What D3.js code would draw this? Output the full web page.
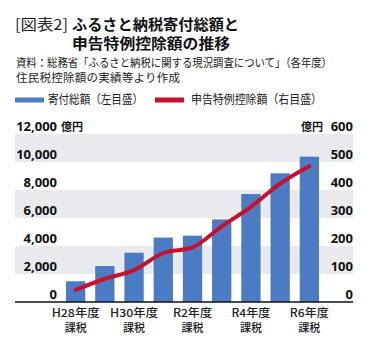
<!DOCTYPE html>
<html><head><meta charset="utf-8">
<script src="https://cdn.jsdelivr.net/npm/d3@7"></script>
<style>
html,body{margin:0;padding:0;background:#fff;}
svg{display:block;font-family:"Noto Sans CJK JP","Noto Sans",sans-serif;}
</style></head>
<body>
<script>
const categories = ["H28","H29","H30","R1","R2","R3","R4","R5","R6"];
const tickLabels = {"H28":["H28年度","課税"],"H30":["H30年度","課税"],"R2":["R2年度","課税"],"R4":["R4年度","課税"],"R6":["R6年度","課税"]};
const donations = [1480, 2570, 3520, 4600, 4740, 5900, 7710, 9190, 10380];
const deductions = [43, 83, 114, 175, 195, 270, 340, 423, 485];
const leftTicks = [0, 2000, 4000, 6000, 8000, 10000, 12000];
const rightTicks = [0, 100, 200, 300, 400, 500, 600];

const W = 366, H = 347;
const svg = d3.select("body").append("svg").attr("width", W).attr("height", H);

const x = d3.scaleBand().domain(categories).range([66, 319]).paddingInner(0.34).paddingOuter(0);
const yL = d3.scaleLinear().domain([0, 12000]).range([302, 134]);
const yR = d3.scaleLinear().domain([0, 600]).range([302, 134]);
const plotL = 15, plotR = 353;

// Title
svg.append("text").attr("x", 15).attr("y", 29.5).attr("font-size", 14.5).attr("fill", "#222")
  .attr("textLength", 53).attr("lengthAdjust", "spacingAndGlyphs").text("[図表2]");
svg.append("text").attr("x", 72).attr("y", 29.5).attr("font-size", 14.5).attr("font-weight", "bold").attr("fill", "#111")
  .attr("textLength", 167).attr("lengthAdjust", "spacingAndGlyphs").text("ふるさと納税寄付総額と");
svg.append("text").attr("x", 72).attr("y", 48.5).attr("font-size", 14.5).attr("font-weight", "bold").attr("fill", "#111")
  .attr("textLength", 158).attr("lengthAdjust", "spacingAndGlyphs").text("申告特例控除額の推移");
svg.append("text").attr("x", 16).attr("y", 66.5).attr("font-size", 11.5).attr("fill", "#222")
  .attr("textLength", 316).attr("lengthAdjust", "spacingAndGlyphs").text("資料：総務省「ふるさと納税に関する現況調査について」（各年度）");
svg.append("text").attr("x", 16).attr("y", 81.5).attr("font-size", 11.5).attr("fill", "#222")
  .attr("textLength", 164).text("住民税控除額の実績等より作成");

// Legend
svg.append("rect").attr("x", 15).attr("y", 97.5).attr("width", 29).attr("height", 5).attr("fill", "#4b7bc3");
svg.append("text").attr("x", 48).attr("y", 104).attr("font-size", 12).attr("fill", "#222")
  .attr("textLength", 95).attr("lengthAdjust", "spacingAndGlyphs").text("寄付総額（左目盛）");
svg.append("rect").attr("x", 155).attr("y", 97.5).attr("width", 29).attr("height", 5).attr("fill", "#c8102e");
svg.append("text").attr("x", 191).attr("y", 104).attr("font-size", 12).attr("fill", "#222")
  .attr("textLength", 131).attr("lengthAdjust", "spacingAndGlyphs").text("申告特例控除額（右目盛）");

// Bands
const bandStarts = leftTicks.filter((t, i) => i % 2 === 1);
svg.append("g").selectAll("rect").data(bandStarts).join("rect")
  .attr("x", plotL).attr("width", plotR - plotL)
  .attr("y", d => yL(d + 2000)).attr("height", d => yL(d) - yL(d + 2000))
  .attr("fill", "#e8eaee");

// Bars
svg.append("g").selectAll("rect").data(donations).join("rect")
  .attr("x", (d, i) => x(categories[i])).attr("width", x.bandwidth())
  .attr("y", d => yL(d)).attr("height", d => yL(0) - yL(d))
  .attr("fill", "#4b7bc3");

// Baseline
svg.append("line").attr("x1", plotL).attr("x2", plotR).attr("y1", 302).attr("y2", 302)
  .attr("stroke", "#111").attr("stroke-width", 1.3);

// Line
const line = d3.line().x((d, i) => x(categories[i]) + x.bandwidth() / 2).y(d => yR(d)).curve(d3.curveMonotoneX);
svg.append("path").datum(deductions).attr("d", line).attr("fill", "none")
  .attr("stroke", "#c8102e").attr("stroke-width", 4).attr("stroke-linecap", "round").attr("stroke-linejoin", "round");

// Left axis labels
const fmt = d3.format(",");
svg.append("g").selectAll("text").data(leftTicks).join("text")
  .attr("x", 57).attr("y", d => yL(d) - 3.5).attr("text-anchor", "end")
  .attr("font-size", 13).attr("font-weight", "bold").attr("fill", "#111")
  .attr("font-family", "'Open Sans','Noto Sans',sans-serif")
  .text(d => fmt(d));
svg.append("text").attr("x", 61).attr("y", yL(12000) - 3.5).attr("font-size", 11).attr("font-weight", "bold").attr("fill", "#111").text("億円");

// Right axis labels
svg.append("g").selectAll("text").data(rightTicks).join("text")
  .attr("x", 353).attr("y", d => yR(d) - 3.5).attr("text-anchor", "end")
  .attr("font-size", 13).attr("font-weight", "bold").attr("fill", "#111")
  .attr("font-family", "'Open Sans','Noto Sans',sans-serif")
  .text(d => d);
svg.append("text").attr("x", 301).attr("y", yR(600) - 3.5).attr("font-size", 11).attr("font-weight", "bold").attr("fill", "#111").text("億円");

// X labels
const xl = svg.append("g");
categories.forEach(c => {
  const lab = tickLabels[c];
  if (!lab) return;
  const cx = x(c) + x.bandwidth() / 2;
  const w1 = lab[0].startsWith("H") ? 48 : 39;
  xl.append("text").attr("x", cx).attr("y", 317).attr("text-anchor", "middle")
    .attr("font-size", 11).attr("font-weight", 500).attr("fill", "#222")
    .attr("textLength", w1).attr("lengthAdjust", "spacingAndGlyphs").text(lab[0]);
  xl.append("text").attr("x", cx).attr("y", 331.5).attr("text-anchor", "middle")
    .attr("font-size", 11).attr("font-weight", 500).attr("fill", "#222")
    .attr("textLength", 22).attr("lengthAdjust", "spacingAndGlyphs").text(lab[1]);
});
</script>
</body></html>
